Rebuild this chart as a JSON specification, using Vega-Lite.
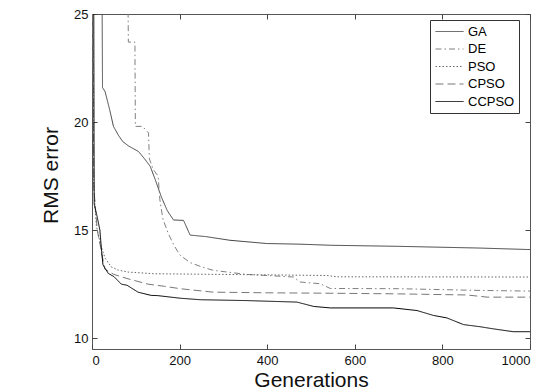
{
  "$schema": "https://vega.github.io/schema/vega-lite/v6.json",
  "autosize": "none",
  "width": 438,
  "height": 335,
  "padding": {"left": 92, "top": 14, "right": 14, "bottom": 43},
  "background": "white",
  "config": {
    "view": {"stroke": "#555", "strokeWidth": 1},
    "font": "Liberation Sans",
    "axis": {
      "grid": false,
      "domain": false,
      "ticks": true,
      "tickSize": -5,
      "tickWidth": 1,
      "tickColor": "#444",
      "labelFont": "Liberation Sans",
      "labelFontSize": 13,
      "labelColor": "#111",
      "titleFont": "Liberation Sans",
      "titleFontSize": 21,
      "titleFontWeight": "normal",
      "titleColor": "#111"
    }
  },
  "data": {"values": [
    {"s": "GA", "g": 0, "v": 40}, {"s": "GA", "g": 23, "v": 26}, {"s": "GA", "g": 24, "v": 21.6}, {"s": "GA", "g": 30, "v": 21.4}, {"s": "GA", "g": 40, "v": 20.6}, {"s": "GA", "g": 49, "v": 19.8}, {"s": "GA", "g": 60, "v": 19.4}, {"s": "GA", "g": 70, "v": 19.1}, {"s": "GA", "g": 83, "v": 18.9}, {"s": "GA", "g": 106, "v": 18.64}, {"s": "GA", "g": 120, "v": 18.3}, {"s": "GA", "g": 133, "v": 17.95}, {"s": "GA", "g": 145, "v": 17.3}, {"s": "GA", "g": 159, "v": 16.5}, {"s": "GA", "g": 172, "v": 15.9}, {"s": "GA", "g": 186, "v": 15.47}, {"s": "GA", "g": 209, "v": 15.45}, {"s": "GA", "g": 224, "v": 14.77}, {"s": "GA", "g": 260, "v": 14.7}, {"s": "GA", "g": 315, "v": 14.53}, {"s": "GA", "g": 399, "v": 14.38}, {"s": "GA", "g": 475, "v": 14.35}, {"s": "GA", "g": 544, "v": 14.3}, {"s": "GA", "g": 700, "v": 14.25}, {"s": "GA", "g": 886, "v": 14.17}, {"s": "GA", "g": 1000, "v": 14.1},
    {"s": "DE", "g": 0, "v": 40}, {"s": "DE", "g": 82, "v": 26}, {"s": "DE", "g": 83, "v": 23.7}, {"s": "DE", "g": 98, "v": 23.7}, {"s": "DE", "g": 99, "v": 19.8}, {"s": "DE", "g": 115, "v": 19.8}, {"s": "DE", "g": 129, "v": 19.5}, {"s": "DE", "g": 131, "v": 18.3}, {"s": "DE", "g": 140, "v": 17.8}, {"s": "DE", "g": 151, "v": 17.5}, {"s": "DE", "g": 155, "v": 16.4}, {"s": "DE", "g": 162, "v": 15.5}, {"s": "DE", "g": 174, "v": 14.85}, {"s": "DE", "g": 187, "v": 14.3}, {"s": "DE", "g": 201, "v": 13.84}, {"s": "DE", "g": 224, "v": 13.5}, {"s": "DE", "g": 250, "v": 13.3}, {"s": "DE", "g": 277, "v": 13.14}, {"s": "DE", "g": 353, "v": 12.95}, {"s": "DE", "g": 400, "v": 12.9}, {"s": "DE", "g": 460, "v": 12.83}, {"s": "DE", "g": 475, "v": 12.6}, {"s": "DE", "g": 521, "v": 12.52}, {"s": "DE", "g": 544, "v": 12.3}, {"s": "DE", "g": 700, "v": 12.29}, {"s": "DE", "g": 886, "v": 12.21}, {"s": "DE", "g": 1000, "v": 12.18},
    {"s": "PSO", "g": 0, "v": 30}, {"s": "PSO", "g": 4, "v": 17}, {"s": "PSO", "g": 10, "v": 15.2}, {"s": "PSO", "g": 20, "v": 14.3}, {"s": "PSO", "g": 30, "v": 13.7}, {"s": "PSO", "g": 44, "v": 13.3}, {"s": "PSO", "g": 60, "v": 13.15}, {"s": "PSO", "g": 82, "v": 13.06}, {"s": "PSO", "g": 143, "v": 12.98}, {"s": "PSO", "g": 201, "v": 12.97}, {"s": "PSO", "g": 300, "v": 12.95}, {"s": "PSO", "g": 400, "v": 12.93}, {"s": "PSO", "g": 536, "v": 12.9}, {"s": "PSO", "g": 560, "v": 12.84}, {"s": "PSO", "g": 1000, "v": 12.83},
    {"s": "CPSO", "g": 0, "v": 30}, {"s": "CPSO", "g": 4, "v": 17}, {"s": "CPSO", "g": 12, "v": 15}, {"s": "CPSO", "g": 21, "v": 14.07}, {"s": "CPSO", "g": 29, "v": 13.2}, {"s": "CPSO", "g": 50, "v": 12.95}, {"s": "CPSO", "g": 82, "v": 12.75}, {"s": "CPSO", "g": 128, "v": 12.5}, {"s": "CPSO", "g": 166, "v": 12.4}, {"s": "CPSO", "g": 201, "v": 12.29}, {"s": "CPSO", "g": 277, "v": 12.13}, {"s": "CPSO", "g": 400, "v": 12.1}, {"s": "CPSO", "g": 544, "v": 12.08}, {"s": "CPSO", "g": 700, "v": 12.05}, {"s": "CPSO", "g": 856, "v": 12.0}, {"s": "CPSO", "g": 902, "v": 11.9}, {"s": "CPSO", "g": 1000, "v": 11.9},
    {"s": "CCPSO", "g": 0, "v": 40}, {"s": "CCPSO", "g": 4, "v": 25.5}, {"s": "CCPSO", "g": 5, "v": 16.2}, {"s": "CCPSO", "g": 12, "v": 15.6}, {"s": "CCPSO", "g": 18, "v": 15.0}, {"s": "CCPSO", "g": 22, "v": 14.0}, {"s": "CCPSO", "g": 25, "v": 13.4}, {"s": "CCPSO", "g": 37, "v": 13.0}, {"s": "CCPSO", "g": 50, "v": 12.85}, {"s": "CCPSO", "g": 67, "v": 12.5}, {"s": "CCPSO", "g": 80, "v": 12.45}, {"s": "CCPSO", "g": 105, "v": 12.13}, {"s": "CCPSO", "g": 135, "v": 11.98}, {"s": "CCPSO", "g": 150, "v": 11.97}, {"s": "CCPSO", "g": 201, "v": 11.85}, {"s": "CCPSO", "g": 247, "v": 11.78}, {"s": "CCPSO", "g": 353, "v": 11.74}, {"s": "CCPSO", "g": 468, "v": 11.67}, {"s": "CCPSO", "g": 506, "v": 11.47}, {"s": "CCPSO", "g": 544, "v": 11.4}, {"s": "CCPSO", "g": 688, "v": 11.4}, {"s": "CCPSO", "g": 742, "v": 11.28}, {"s": "CCPSO", "g": 780, "v": 11.05}, {"s": "CCPSO", "g": 810, "v": 10.94}, {"s": "CCPSO", "g": 848, "v": 10.63}, {"s": "CCPSO", "g": 886, "v": 10.53}, {"s": "CCPSO", "g": 917, "v": 10.43}, {"s": "CCPSO", "g": 962, "v": 10.3}, {"s": "CCPSO", "g": 1000, "v": 10.3}
  ]},
  "layer": [
    {
      "mark": {"type": "line", "clip": true},
      "encoding": {
        "x": {"field": "g", "type": "quantitative", "scale": {"domain": [0, 1000], "nice": false, "zero": false},
              "axis": {"orient": "bottom", "values": [0, 200, 400, 600, 800, 1000], "format": "d", "title": "Generations", "labelPadding": 10, "titlePadding": 2}},
        "y": {"field": "v", "type": "quantitative", "scale": {"domain": [9.5, 25], "nice": false, "zero": false},
              "axis": {"orient": "left", "values": [10, 15, 20, 25], "title": "RMS error", "labelPadding": 9, "titlePadding": 12, "titleY": 161}},
        "color": {"field": "s", "type": "nominal", "sort": ["GA", "DE", "PSO", "CPSO", "CCPSO"],
                  "scale": {"domain": ["GA", "DE", "PSO", "CPSO", "CCPSO"], "range": ["#444444", "#808080", "#666666", "#777777", "#000000"]},
                  "legend": {"title": null, "orient": "none", "legendX": 338, "legendY": 6, "strokeColor": "#333", "fillColor": "white", "padding": 4,
                             "symbolType": "M-2,0H2", "symbolSize": 196, "symbolOffset": 8, "symbolFillColor": "transparent", "labelFontSize": 13, "labelFont": "Liberation Sans", "labelColor": "#000", "labelOffset": 11, "rowPadding": 2.5, "symbolStrokeWidth": 1.2}},
        "strokeDash": {"field": "s", "type": "nominal", "sort": ["GA", "DE", "PSO", "CPSO", "CCPSO"],
                       "scale": {"domain": ["GA", "DE", "PSO", "CPSO", "CCPSO"], "range": [[1, 0], [6, 3, 1.5, 3], [1.5, 2], [8, 4], [1, 0]]},
                       "legend": {"title": null}},
        "strokeWidth": {"field": "s", "type": "nominal", "sort": ["GA", "DE", "PSO", "CPSO", "CCPSO"],
                        "scale": {"domain": ["GA", "DE", "PSO", "CPSO", "CCPSO"], "range": [1, 1, 1, 1.2, 1.8]},
                        "legend": {"title": null}},
        "order": {"field": "g", "type": "quantitative"}
      }
    },
    {
      "mark": {"type": "line", "clip": true, "opacity": 0},
      "encoding": {
        "x": {"field": "g", "type": "quantitative", "scale": {"domain": [0, 1000], "nice": false, "zero": false},
              "axis": {"orient": "top", "values": [0, 200, 400, 600, 800, 1000], "labels": false, "title": null}},
        "y": {"field": "v", "type": "quantitative", "scale": {"domain": [9.5, 25], "nice": false, "zero": false},
              "axis": {"orient": "right", "values": [10, 15, 20, 25], "labels": false, "title": null}},
        "detail": {"field": "s", "type": "nominal"}
      }
    }
  ],
  "resolve": {"axis": {"x": "independent", "y": "independent"}}
}
